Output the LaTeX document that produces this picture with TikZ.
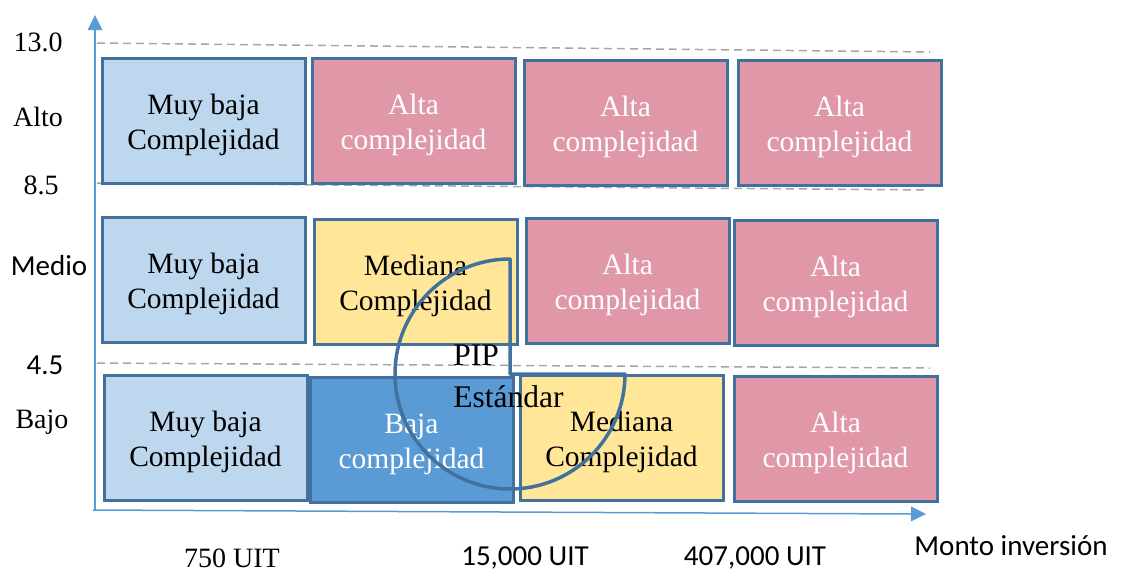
\documentclass[tikz,border=0pt]{standalone}
\usepackage{fontspec}
\setmainfont{Liberation Serif}
\newfontfamily\calibri{Carlito}
\definecolor{boxline}{RGB}{65,113,156}
\definecolor{lowcell}{RGB}{189,215,238}
\definecolor{highcell}{RGB}{224,152,168}
\definecolor{midcell}{RGB}{255,230,153}
\definecolor{bajacell}{RGB}{91,155,213}
\definecolor{axisblue}{RGB}{91,155,213}
\definecolor{gridgray}{RGB}{166,166,166}
\newcommand{\celllift}{\rule{0pt}{29pt}}

\tikzset{every picture/.style={line width=0.75pt}}
\tikzset{
  cell/.style={draw=boxline, line width=3pt, minimum width=203pt, minimum height=125pt,
    inner sep=0pt, align=center, font=\fontsize{29.5}{35}\selectfont},
  muybaja/.style={cell, fill=lowcell},
  alta/.style={cell, fill=highcell, text=white},
  mediana/.style={cell, fill=midcell},
  baja/.style={cell, fill=bajacell, text=white},
  serlabel/.style={inner sep=0pt, font=\fontsize{28}{34}\selectfont},
  sanslabel/.style={inner sep=0pt, font=\calibri\fontsize{29}{34}\selectfont},
  gridline/.style={draw=gridgray, line width=1.5pt, dash pattern={on 8pt off 5pt}},
  axisline/.style={draw=axisblue, line width=1.5pt}
}

\begin{document}
\begin{tikzpicture}[x=1pt,y=1pt,yscale=-1,xscale=1]
\useasboundingbox (0,0) rectangle (1122,574);

%Straight Lines (levels)
\draw [gridline] (97,43) -- (930,52) ;
\draw [gridline] (97,183) -- (929,190) ;
\draw [gridline] (97,363) -- (930,368) ;

%Axes
\coordinate (orig) at (95,511);
\coordinate (ytop) at (95,28);
\coordinate (xorig) at (93,510);
\coordinate (xend) at (912,514);
\draw [axisline] (orig) -- (ytop) ;
\fill [axisblue, shift={(95,15)}, rotate=90] (0,0) -- (15,-7.5) -- (15,7.5) -- cycle ;
\draw [axisline] (xorig) -- (xend) ;
\fill [axisblue, shift={(926,514)}, rotate=180.28] (0,0) -- (15,-7.5) -- (15,7.5) -- cycle ;

%Shape: Rectangles, row Alto
\draw (203.5,120.5) node (alto1) [muybaja] {\celllift Muy baja\\Complejidad};
\draw (413.5,120.5) node (alto2) [alta] {\celllift Alta\\complejidad};
\draw (625.5,122.5) node (alto3) [alta] {\celllift Alta\\complejidad};
\draw (839.5,122.5) node (alto4) [alta] {\celllift Alta\\complejidad};
%Shape: Rectangles, row Medio
\draw (203.5,279.5) node (medio1) [muybaja] {\celllift Muy baja\\Complejidad};
\draw (415.5,281.5) node (medio2) [mediana] {\celllift Mediana\\Complejidad};
\draw (627.5,280.5) node (medio3) [alta] {\celllift Alta\\complejidad};
\draw (835.5,282.5) node (medio4) [alta] {\celllift Alta\\complejidad};
%Shape: Rectangles, row Bajo
\draw (205.5,438) node (bajo1) [muybaja] {\celllift Muy baja\\Complejidad};
\draw (411.5,439.5) node (bajo2) [baja] {\celllift Baja\\complejidad};
\draw (621.5,438) node (bajo3) [mediana] {\celllift Mediana\\Complejidad};
\draw (835.5,439) node (bajo4) [alta] {\celllift Alta\\complejidad};

%Shape: PIP estandar
\draw [boxline, line width=3.5pt, line join=round] (510,374) -- (625,374) arc [start angle=0, end angle=270, radius=115] -- cycle ;

% Text Node
\draw (453,376) node (pip) [anchor=west, inner sep=0pt, align=left, font=\fontsize{31.5}{42}\selectfont] {PIP\\Estándar};

% Text Node (levels)
\draw (38,42) node (v13) [serlabel] {13.0};
\draw (38,117) node (alto) [serlabel] {Alto};
\draw (41,185) node (v85) [serlabel] {8.5};
\draw (49,266) node (medio) [sanslabel] {Medio};
\draw (45,365) node (v45) [sanslabel] {4.5};
\draw (42,422) node (bajo) [serlabel] {Bajo};

% Text Node (amounts)
\draw (232,558) node (m750) [serlabel] {750 UIT};
\draw (525,558) node (m15) [sanslabel] {15,000 UIT};
\draw (755,558) node (m407) [sanslabel] {407,000 UIT};
\draw (1011,546) node (monto) [sanslabel] {Monto inversión};
\end{tikzpicture}
\end{document}
